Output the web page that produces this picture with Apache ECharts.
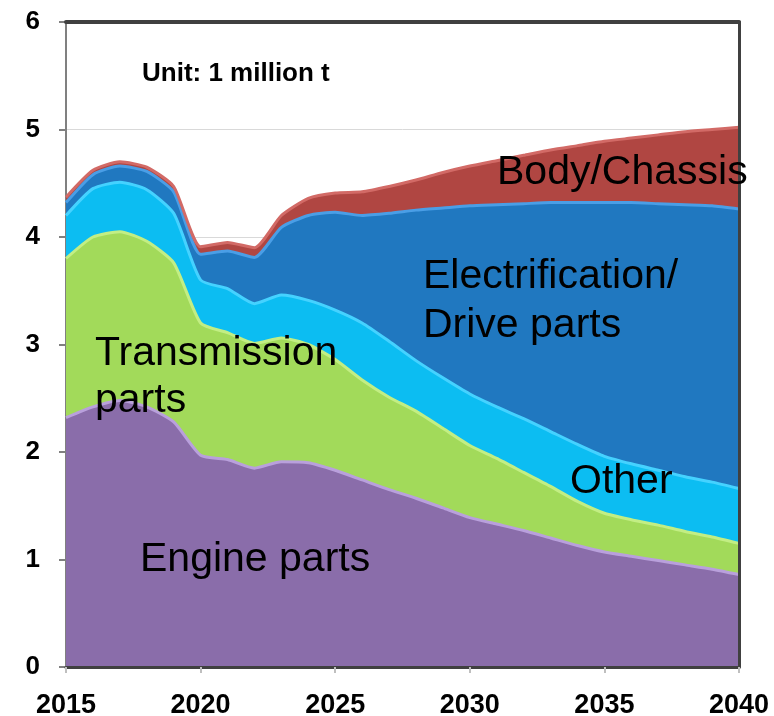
<!DOCTYPE html>
<html lang="en">
<head>
  <meta charset="UTF-8">
  <title>Parts demand</title>
  <script src="https://cdn.jsdelivr.net/npm/echarts@6/dist/echarts.min.js"></script>
</head>
<body style="margin:0">
  <div id="main" style="width:774px;height:716px"></div>
  <script>
    // years on the x axis
    const years = ['2015','2016','2017','2018','2019','2020','2021','2022','2023','2024','2025','2026','2027',
                   '2028','2029','2030','2031','2032','2033','2034','2035','2036','2037','2038','2039','2040'];

    // stacked layers, bottom to top (million t)
    const engine = [2.32,2.42,2.48,2.42,2.28,1.97,1.93,1.85,1.91,1.90,1.83,1.74,1.65,1.57,1.48,1.39,1.33,1.27,1.20,1.13,1.07,1.03,0.99,0.95,0.91,0.86];
    const transmission = [1.48,1.58,1.57,1.54,1.48,1.23,1.18,1.16,1.15,1.10,1.03,0.93,0.86,0.81,0.74,0.67,0.61,0.54,0.48,0.41,0.36,0.34,0.33,0.31,0.30,0.29];
    const other = [0.40,0.45,0.46,0.48,0.46,0.40,0.41,0.37,0.40,0.41,0.46,0.53,0.52,0.47,0.47,0.48,0.48,0.50,0.51,0.53,0.53,0.52,0.51,0.51,0.51,0.51];
    const electrification = [0.12,0.13,0.15,0.17,0.20,0.24,0.35,0.43,0.63,0.79,0.91,1.00,1.19,1.40,1.58,1.75,1.88,2.00,2.13,2.25,2.36,2.43,2.48,2.53,2.57,2.60];
    const body = [0.05,0.04,0.04,0.04,0.05,0.07,0.08,0.09,0.11,0.16,0.18,0.22,0.25,0.28,0.33,0.37,0.41,0.45,0.49,0.53,0.57,0.60,0.64,0.68,0.71,0.76];

    const yTicks = [0, 6, 1]; // min, max, step

    const font = '"Liberation Sans", Arial, sans-serif';

    function layer(name, data, fill, edge) {
      return {
        name: name,
        type: 'line',
        stack: 'total',
        data: data,
        smooth: 0.2,
        symbol: 'none',
        lineStyle: { color: edge, width: 3 },
        areaStyle: { color: fill, opacity: 1 },
        emphasis: { disabled: true }
      };
    }

    function label(text, x, y, size, bold, lh) {
      return {
        type: 'text', left: x, top: y, z: 100,
        style: {
          text: text, fill: '#000',
          font: (bold ? 'bold ' : '') + size + 'px ' + font,
          lineHeight: lh || size
        }
      };
    }

    let myChart = echarts.init(document.getElementById('main'));
    let option = {
      animation: false,
      grid: { left: 66, right: 35, top: 22, bottom: 49, outerBoundsMode: 'none' },
      xAxis: [
        {
          type: 'category', data: years, boundaryGap: false, z: 5,
          axisLine: { lineStyle: { color: '#404040', width: 3 } },
          axisTick: { interval: 4, length: 6, lineStyle: { color: '#bfbfbf', width: 2 } },
          axisLabel: { interval: 4, margin: 25, color: '#000', fontWeight: 'bold', fontSize: 27, fontFamily: font }
        },
        {
          type: 'category', data: years, boundaryGap: false, position: 'top', z: 5,
          axisLine: { onZero: false, lineStyle: { color: '#404040', width: 4 } },
          axisTick: { show: false }, axisLabel: { show: false }
        }
      ],
      yAxis: [
        {
          type: 'value', min: yTicks[0], max: yTicks[1], interval: yTicks[2],
          axisLine: { show: true, lineStyle: { color: '#808080', width: 2 } },
          axisTick: { show: true, length: 7, lineStyle: { color: '#808080', width: 2 } },
          axisLabel: { margin: 26, color: '#000', fontWeight: 'bold', fontSize: 26, fontFamily: font },
          splitLine: { lineStyle: { color: '#d9d9d9', width: 1 } }
        },
        {
          type: 'value', min: yTicks[0], max: yTicks[1], interval: yTicks[2], position: 'right', z: 5,
          axisLine: { show: true, onZero: false, lineStyle: { color: '#404040', width: 3 } },
          axisTick: { show: false }, axisLabel: { show: false }, splitLine: { show: false }
        }
      ],
      series: [
        layer('Engine parts', engine, '#8a6daa', '#b9a0dc'),
        layer('Transmission parts', transmission, '#a2da5a', '#c2ee84'),
        layer('Other', other, '#0cbdf2', '#45d2ff'),
        layer('Electrification/Drive parts', electrification, '#2078c0', '#4a9ee6'),
        layer('Body/Chassis', body, '#b04642', '#d26a66')
      ],
      graphic: [
        label('Unit: 1 million t', 142, 61, 26, true),
        label('Body/Chassis', 497, 152, 41, false),
        label('Electrification/\nDrive parts', 423, 252, 41, false, 49),
        label('Transmission\nparts', 95, 330, 41, false, 47),
        label('Other', 570, 461, 41, false),
        label('Engine parts', 140, 539, 41, false)
      ]
    };
    myChart.setOption(option);
  </script>
</body>
</html>
